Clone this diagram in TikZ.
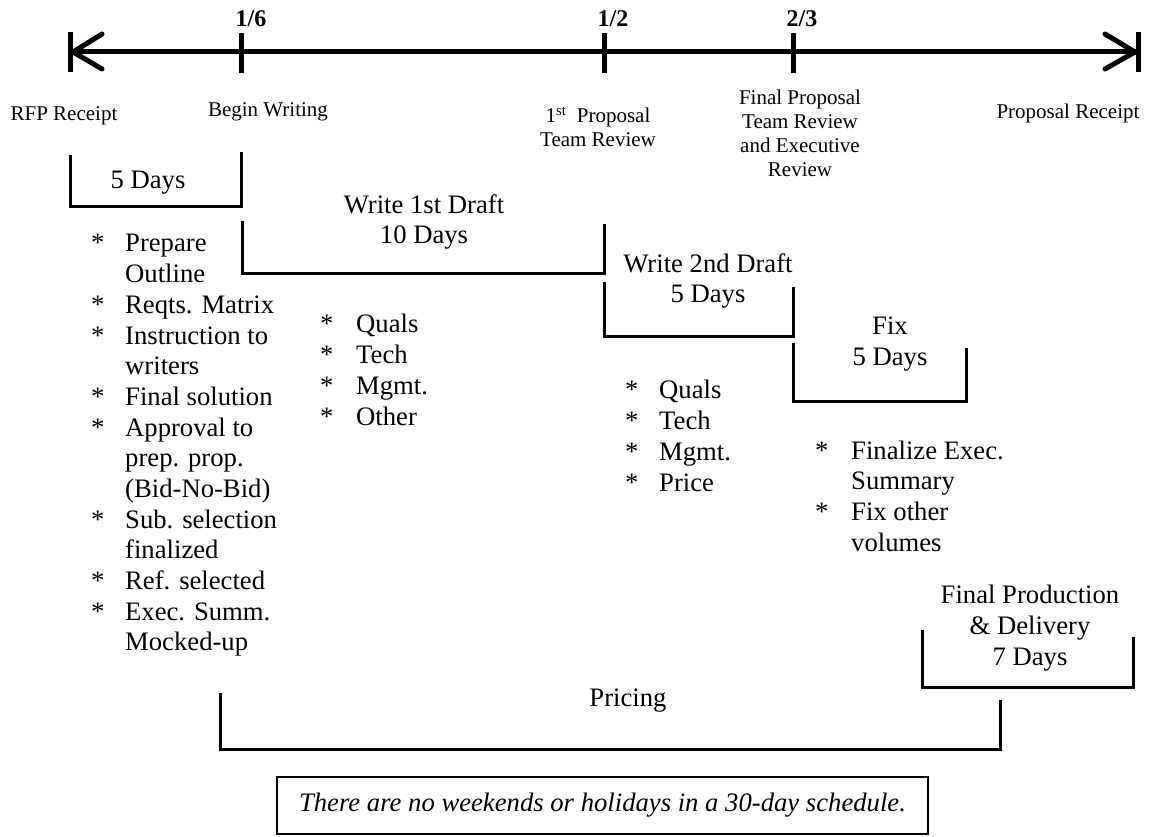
\documentclass[tikz,border=0pt]{standalone}
\usepackage{fontspec}
\setmainfont{Liberation Serif}
\newcommand{\fmain}{\fontsize{26.67}{30.67}\selectfont}
\newcommand{\fsmall}{\fontsize{21}{24}\selectfont}
\newcommand{\ffrac}{\fontsize{24}{28}\selectfont\bfseries}
\newcommand{\bul}{{*}}
\tikzset{
  x=1pt, y=-1pt,
  axisline/.style={line width=5pt},
  tickmark/.style={line width=5pt},
  headarm/.style={line width=5pt, line cap=round},
  bracket/.style={line width=3pt, line join=miter},
  lbl/.style={font=\fmain, align=center, inner sep=0pt},
  ptlbl/.style={font=\fsmall, align=center, inner sep=0pt},
  fraclbl/.style={font=\ffrac, inner sep=0pt},
  blist/.style={font=\fmain, inner sep=0pt, anchor=base west},
  notebox/.style={draw, line width=2.5pt, font=\fmain\itshape, minimum width=651pt, minimum height=57pt, inner sep=0pt}
}
\begin{document}
\begin{tikzpicture}
\useasboundingbox (0,0) rectangle (1163,837);
% timeline
\coordinate (tL) at (70,52);
\coordinate (tR) at (1138,52);
\draw[axisline] (tL) -- (tR);
\draw[tickmark] (70,32) -- (70,72);
\draw[tickmark] (1138,32) -- (1138,72);
\draw[headarm] (73,52) -- (102,34);
\draw[headarm] (73,52) -- (102,69);
\draw[headarm] (1135,52) -- (1105,34);
\draw[headarm] (1135,52) -- (1105,69);
\draw[tickmark] (241,33) -- (241,73);
\draw[tickmark] (604,33) -- (604,73);
\draw[tickmark] (793,33) -- (793,73);
\node[fraclbl] (f16) at (251,19) {1/6};
\node[fraclbl] (f12) at (613,19) {1/2};
\node[fraclbl] (f23) at (802,19) {2/3};
% milestone labels
\node[ptlbl] (rfp) at (64,116) {RFP Receipt};
\node[ptlbl] (begin) at (268,112) {Begin Writing};
\node[ptlbl] (first) at (598,127) {1\textsuperscript{st}\ \ Proposal\\Team Review};
\node[ptlbl] (final) at (800,133) {Final Proposal\\Team Review\\and Executive\\Review};
\node[ptlbl] (prec) at (1068,113) {Proposal Receipt};
% brackets
\draw[bracket] (70,155) -- (70,207) -- (241,207) -- (241,152);
\node[lbl] (d5) at (148,183) {5 Days};
\draw[bracket] (242,221) -- (242,274) -- (604,274) -- (604,224);
\node[lbl] (w1) at (424,222) {Write 1st Draft\\10 Days};
\draw[bracket] (604,282) -- (604,337) -- (793,337) -- (793,287);
\node[lbl] (w2) at (708,281) {Write 2nd Draft\\5 Days};
\draw[bracket] (793,343) -- (793,401) -- (966,401) -- (966,348);
\node[lbl] (fix) at (890,344) {Fix\\5 Days};
\draw[bracket] (922,630) -- (922,687) -- (1133,687) -- (1133,637);
\node[lbl] (fp) at (1030,628) {Final Production\\\& Delivery\\7 Days};
\draw[bracket] (220,693) -- (220,749) -- (1000,749) -- (1000,700);
\node[lbl] (pricing) at (628,701) {Pricing};
% lists
\node[blist] (l1) at (91,252) {\begin{tabular}[t]{@{}p{34pt}@{}l@{}}
\bul & Prepare\\ & Outline\\ \bul & Reqts. Matrix\\ \bul & Instruction to\\ & writers\\ \bul & Final solution\\ \bul & Approval to\\ & prep. prop.\\ & (Bid-No-Bid)\\ \bul & Sub. selection\\ & finalized\\ \bul & Ref. selected\\ \bul & Exec. Summ.\\ & Mocked-up
\end{tabular}};
\node[blist] (l2) at (320,333) {\begin{tabular}[t]{@{}p{36pt}@{}l@{}}
\bul & Quals\\ \bul & Tech\\ \bul & Mgmt.\\ \bul & Other
\end{tabular}};
\node[blist] (l3) at (625,399) {\begin{tabular}[t]{@{}p{34pt}@{}l@{}}
\bul & Quals\\ \bul & Tech\\ \bul & Mgmt.\\ \bul & Price
\end{tabular}};
\node[blist] (l4) at (815,459) {\begin{tabular}[t]{@{}p{36pt}@{}l@{}}
\bul & Finalize Exec.\\ & Summary\\ \bul & Fix other\\ & volumes
\end{tabular}};
% note
\node[notebox] (note) at (602.5,805.5) {There are no weekends or holidays in a 30-day schedule.};
\end{tikzpicture}
\end{document}
